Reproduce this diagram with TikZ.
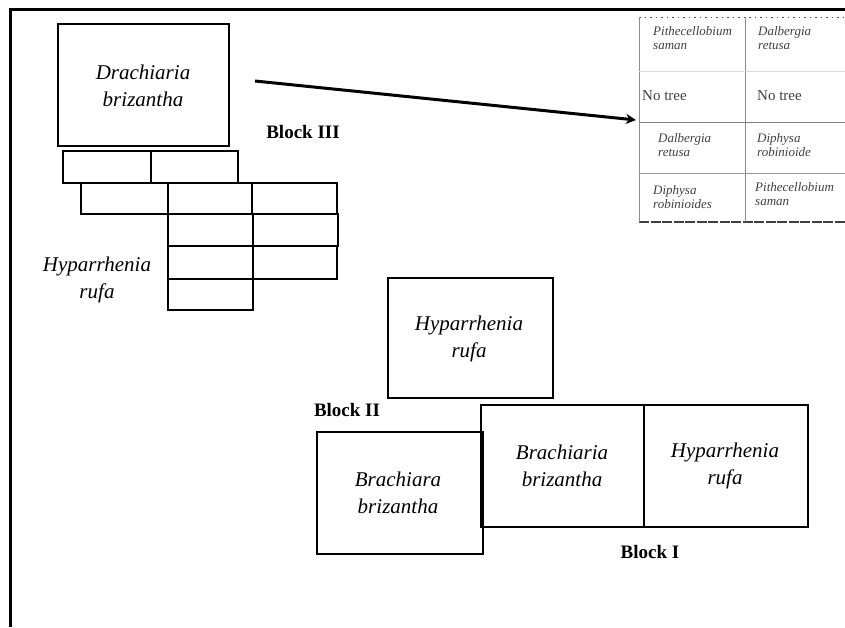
\documentclass[tikz,border=0pt]{standalone}
\usepackage{fontspec}
\setmainfont{Liberation Serif}
\usetikzlibrary{arrows.meta}
\tikzset{
  cell/.style={draw, line width=1.1pt, inner sep=0pt, outer sep=0pt, anchor=north west},
  plot/.style={cell, line width=1.2pt},
  species/.style={align=center, font=\fontsize{21}{27}\selectfont\itshape, inner sep=0pt},
  blocklab/.style={font=\fontsize{19}{22}\selectfont\bfseries, inner sep=0pt},
  tabtxt/.style={align=left, anchor=west, text=black!75, font=\fontsize{13}{13.5}\selectfont\itshape, inner sep=0pt},
  tabup/.style={tabtxt, font=\fontsize{15}{16}\selectfont},
  tabline/.style={draw=black!45, line width=0.8pt},
  frame/.style={line width=3pt},
  bigarrow/.style={line width=3pt, -{Stealth[length=10pt,width=10pt]}}
}
\newcommand\mycell[6][cell]{\node[#1, minimum width=#5pt, minimum height=#6pt] (#2) at (#3,#4) {};}
\begin{document}
\begin{tikzpicture}[x=1pt,y=-1pt]
\useasboundingbox (0,0) rectangle (845,627);
% frame
\coordinate (fTR) at (845,9);
\coordinate (fTL) at (10,9);
\coordinate (fBL) at (10,627);
\draw[frame] (fTR) -- (fTL) -- (fBL);

% Block III
\mycell[plot]{b3big}{58}{24}{171}{122}
\node[species] (b3bigt) at (143,86) {Drachiaria\\brizantha};
\mycell{c11}{63}{151}{88}{32}
\mycell{c12}{151}{151}{87}{32}
\mycell{c21}{81}{183}{87}{31}
\mycell{c22}{168}{183}{84}{31}
\mycell{c23}{252}{183}{85}{31}
\mycell{c31}{168}{214}{85}{32}
\mycell{c32}{253}{214}{85}{32}
\mycell{c41}{168}{246}{85}{33}
\mycell{c42}{253}{246}{84}{33}
\mycell{c51}{168}{279}{85}{31}
\node[species] (hyp3) at (97,280) {Hyparrhenia\\rufa};
\node[blocklab] (lb3) at (303,132) {Block III};

% table
\draw[tabline, draw=black!70, dash pattern=on 1.5pt off 4pt] (639,17) -- (845,17);
\draw[tabline, draw=black!75, line width=1.8pt, dash pattern=on 10pt off 1.5pt] (639,222) -- (845,222);
\draw[tabline] (639,17) -- (639,222);
\draw[tabline] (745,17) -- (745,222);
\draw[tabline, draw=black!15] (639,71) -- (845,71);
\draw[tabline, draw=black!50] (639,122) -- (845,122);
\draw[tabline, draw=black!40] (639,173) -- (845,173);
\coordinate (tabin) at (636,120);
\node[tabtxt] (t11) at (653,38) {Pithecellobium\\saman};
\node[tabtxt] (t12) at (758,38) {Dalbergia\\retusa};
\node[tabup] (t21) at (642,96) {No tree};
\node[tabup] (t22) at (757,96) {No tree};
\node[tabtxt] (t31) at (658,145) {Dalbergia\\retusa};
\node[tabtxt] (t32) at (757,145) {Diphysa\\robinioide};
\node[tabtxt] (t41) at (653,197) {Diphysa\\robinioides};
\node[tabtxt] (t42) at (755,194) {Pithecellobium\\saman};
\coordinate (arrstart) at (255,81);
\draw[bigarrow] (arrstart) -- (tabin);

% Block II
\mycell[plot]{b2top}{388}{278}{165}{120}
\node[species] (b2topt) at (469,339) {Hyparrhenia\\rufa};
\node[blocklab] (lb2) at (347,410) {Block II};
\mycell[plot]{b2bot}{317}{432}{166}{122}
\node[species] (b2bott) at (398,493) {Brachiara\\brizantha};

% Block I
\mycell[plot]{b1l}{481}{405}{163}{122}
\mycell[plot]{b1r}{644}{405}{164}{122}
\node[species] (b1lt) at (562,466) {Brachiaria\\brizantha};
\node[species] (b1rt) at (725,466) {Hyparrhenia\\rufa};
\node[blocklab] (lb1) at (650,552) {Block I};
\end{tikzpicture}
\end{document}
